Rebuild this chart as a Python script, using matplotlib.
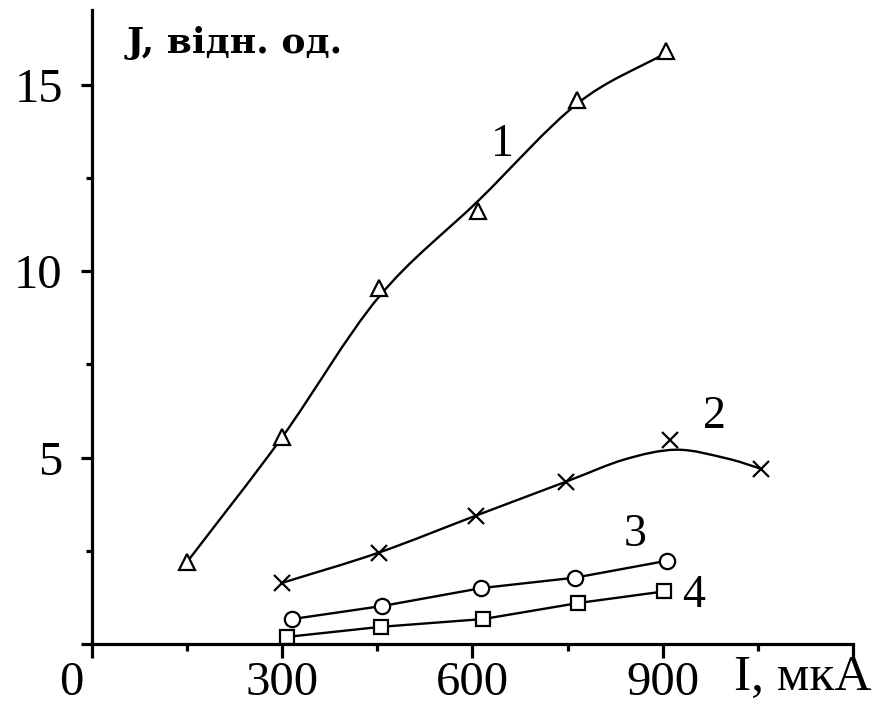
import matplotlib
matplotlib.use('Agg')
import matplotlib.pyplot as plt
from matplotlib.path import Path
from matplotlib.patches import PathPatch
import numpy as np

plt.rcParams['font.family'] = ['Liberation Serif', 'DejaVu Serif']

# ---- data ----
# measured points (markers)
x1 = [150, 300, 452, 608, 765, 905]
y1 = [2.2, 5.55, 9.55, 11.6, 14.6, 15.9]
x2 = [300, 452, 605, 747, 911, 1055]
y2 = [1.64, 2.45, 3.44, 4.35, 5.48, 4.7]
x3 = [316, 458, 614, 762, 906]
y3 = [0.67, 1.02, 1.5, 1.78, 2.23]
x4 = [307, 455, 617, 767, 902]
y4 = [0.19, 0.46, 0.67, 1.1, 1.41]

# hand-drawn smooth curves 1 and 2
trace1_x = [150, 300, 452, 610, 766, 905]
trace1_y = [2.2, 5.55, 9.3, 11.9, 14.5, 15.85]
trace2_x = [300, 452, 605, 747, 840, 922, 1000, 1055]
trace2_y = [1.64, 2.45, 3.44, 4.35, 4.95, 5.21, 4.98, 4.7]

curve_labels = ['1', '2', '3', '4']
label_pos = [(647, 13.4), (982, 6.1), (857, 2.93), (948, 1.29)]

xticks = [0, 300, 600, 900, 1200]
xtick_labels = ['', '300', '600', '900', '']
yticks = [0, 5, 10, 15]
ytick_labels = ['', '5', '10', '15']

FS = 35


def smooth_path(xs, ys):
    """Catmull-Rom style Bezier path through the traced points."""
    p = np.column_stack([xs, ys]).astype(float)
    verts = [p[0]]
    codes = [Path.MOVETO]
    for i in range(len(p) - 1):
        p0 = p[i - 1] if i > 0 else 2 * p[i] - p[i + 1]
        p3 = p[i + 2] if i + 2 < len(p) else 2 * p[i + 1] - p[i]
        c1 = p[i] + (p[i + 1] - p0) / 6.0
        c2 = p[i + 1] - (p3 - p[i]) / 6.0
        verts += [c1, c2, p[i + 1]]
        codes += [Path.CURVE4] * 3
    return Path(verts, codes)


fig = plt.figure(figsize=(8.92, 7.04), dpi=100)
ax = fig.add_axes([0.1031, 0.0852, 0.8532, 0.9006])

for tx, ty in [(trace1_x, trace1_y), (trace2_x, trace2_y)]:
    ax.add_patch(PathPatch(smooth_path(tx, ty), fc='none', ec='black', lw=1.7, zorder=2))
ax.plot(x1, y1, ls='none', marker='^', ms=12, mfc='white', mec='black', mew=1.6, zorder=3)
ax.plot(x2, y2, ls='none', marker='x', ms=11, mec='black', mew=1.6, zorder=3)
ax.plot(x3, y3, color='black', lw=1.7, marker='o', ms=11, mfc='white', mec='black', mew=1.6)
ax.plot(x4, y4, color='black', lw=1.7, marker='s', ms=10, mfc='white', mec='black', mew=1.6)

for lab, (lx, ly) in zip(curve_labels, label_pos):
    ax.text(lx, ly, lab, fontsize=33, ha='center', va='center')

ax.set_xlim(0, 1200)
ax.set_ylim(0, 17)
ax.spines['top'].set_visible(False)
ax.spines['right'].set_visible(False)
for s in ['left', 'bottom']:
    ax.spines[s].set_linewidth(2.3)

ax.set_xticks(xticks)
ax.set_xticklabels(xtick_labels)
ax.set_xticks([150, 450, 750, 1050], minor=True)
ax.set_yticks(yticks)
ax.set_yticklabels(ytick_labels)
ax.set_yticks([2.5, 7.5, 12.5], minor=True)
ax.tick_params(axis='x', which='major', direction='out', length=10, width=2.3, labelsize=FS, pad=2)
ax.tick_params(axis='x', which='minor', direction='out', length=5, width=2.3)
ax.tick_params(axis='y', which='major', direction='out', length=8, width=2.3, labelsize=FS, pad=13)
ax.tick_params(axis='y', which='minor', direction='out', length=4, width=2.3)

ax.text(-33, -1.05, '0', fontsize=FS, ha='center', va='center', clip_on=False)
ax.text(1012, -0.9, 'I, мкА', fontsize=37, ha='left', va='center', clip_on=False)
ax.text(55, 15.85, 'J, відн. од.', fontsize=26, fontweight='bold',
        family='DejaVu Serif', ha='left', va='baseline')

fig.savefig('out.png', dpi=100)
